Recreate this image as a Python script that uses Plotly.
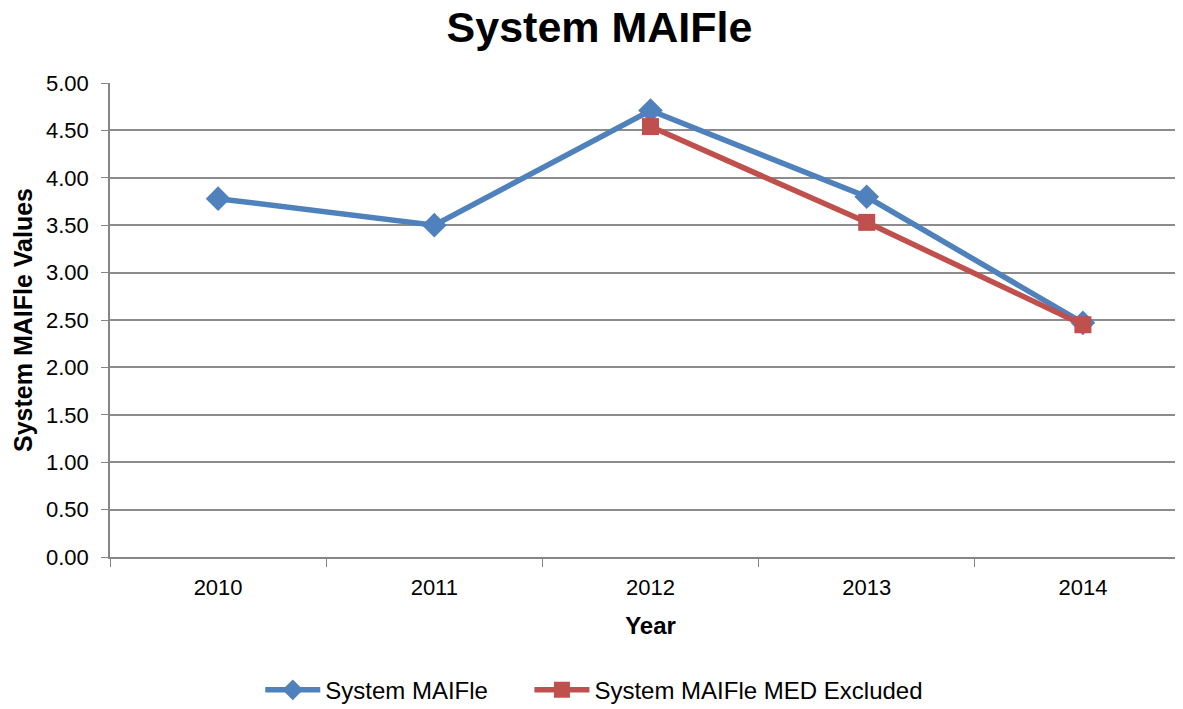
import plotly.graph_objects as go

years = ['2010', '2011', '2012', '2013', '2014']
maifle = [3.78, 3.50, 4.71, 3.80, 2.47]
maifle_med_excl = [None, None, 4.54, 3.53, 2.45]

fig = go.Figure()

fig.add_trace(go.Scatter(
    x=years, y=maifle, name='System MAIFle', mode='lines+markers',
    line=dict(color='#4F81BD', width=5.5),
    marker=dict(symbol='diamond', size=19, color='#4F81BD'),
    legend='legend'
))

fig.add_trace(go.Scatter(
    x=years, y=maifle_med_excl, name='System MAIFle MED Excluded', mode='lines+markers',
    line=dict(color='#C0504D', width=5.5),
    marker=dict(symbol='square', size=17, color='#C0504D'),
    legend='legend2'
))

leg_common = dict(orientation='h', y=-0.281, yanchor='middle', xanchor='left',
                  font=dict(size=24), itemwidth=55, bgcolor='rgba(0,0,0,0)')

# body has an 8px margin in the page, so offsets are compensated here
fig.update_layout(
    width=1183, height=709,
    paper_bgcolor='white', plot_bgcolor='white',
    margin=dict(l=102, r=0, t=75, b=160),
    font=dict(family='Liberation Sans, Arial', color='black', size=22),
    title=dict(text='<b>System MAIFle</b>', x=0.5, xanchor='center', y=0.995, yanchor='top',
               font=dict(size=43)),
    showlegend=True,
    legend=dict(x=0.139, **leg_common),
    legend2=dict(x=0.388, **leg_common),
)

fig.update_xaxes(
    type='category', range=[-0.5, 4.5],
    tickson='boundaries', ticks='outside', ticklen=8, tickcolor='#868686',
    showline=True, linecolor='#868686', linewidth=1.5, showgrid=False,
    ticklabelstandoff=10,
    title=dict(text='<b>Year</b>', font=dict(size=24), standoff=18),
    tickfont=dict(size=22),
)

fig.update_yaxes(
    range=[0, 5], dtick=0.5, tickformat='.2f',
    ticks='outside', ticklen=7, tickcolor='#868686',
    showline=True, linecolor='#868686', linewidth=1.5,
    showgrid=True, gridcolor='#8c8c8c', gridwidth=1.5, zeroline=False,
    ticklabelstandoff=8,
    title=dict(text='<b>System MAIFle Values</b>', font=dict(size=25), standoff=6),
    tickfont=dict(size=22),
)

fig.write_html('out.html')
